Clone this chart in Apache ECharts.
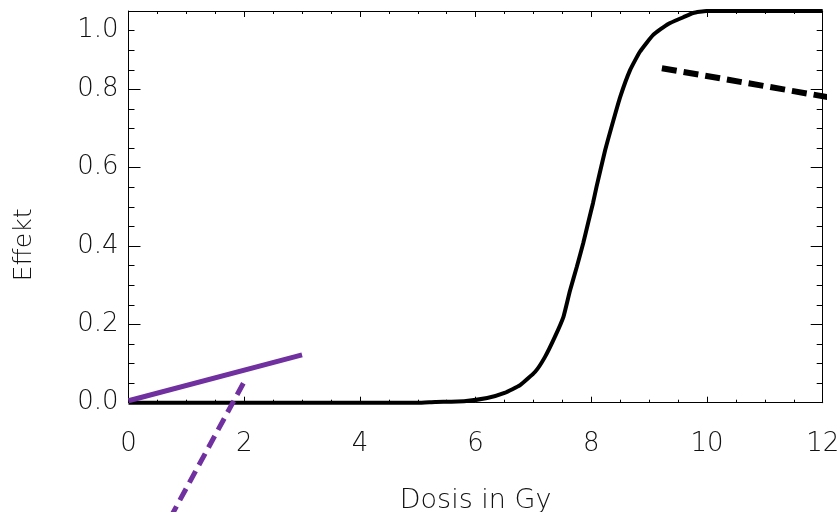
<!DOCTYPE html>
<html><head><meta charset="utf-8">
<script src="https://cdn.jsdelivr.net/npm/echarts@6/dist/echarts.min.js"></script>
<style>html,body{margin:0;padding:0;background:#fff}#c{width:840px;height:512px}</style>
</head><body><div id="c"></div>
<script>
// Dose-effect curve (Effekt vs Dosis in Gy)
const doseX   = [0, 5.0, 5.3, 5.8, 6.2, 6.5, 6.77, 7.03, 7.2, 7.37, 7.52, 7.63, 7.75, 7.86, 7.95, 8.03, 8.09, 8.24, 8.38, 8.5, 8.67, 8.84, 9.07, 9.33, 9.59, 9.76, 9.99, 12];
const effectY = [0, 0, 0.002, 0.004, 0.012, 0.025, 0.045, 0.079, 0.117, 0.168, 0.22, 0.285, 0.347, 0.407, 0.462, 0.51, 0.551, 0.645, 0.72, 0.781, 0.849, 0.896, 0.939, 0.967, 0.984, 0.995, 1.0, 1.0];
// purple solid tangent at low dose
const lowTangentX = [0, 3];
const lowTangentY = [0.005, 0.122];
// purple dashed line
const steepDashX = [1.985, 0.6];
const steepDashY = [0.0495, -0.327];
// black dashed line at high dose
const highDashX = [9.22, 12.6];
const highDashY = [0.854, 0.767];
// tick labels
const xTickLabels = ['0','2','4','6','8','10','12'];
const yTickLabels = ['0.0','0.2','0.4','0.6','0.8'];
const yTopLabel = '1.0';

const pairs = (xs, ys) => xs.map((x, i) => [x, ys[i]]);
const font = "'DejaVu Sans ExtraLight', 'DejaVu Sans'";
const fw = 200;
const txt = '#111';

const baseX = {
  type: 'value', min: 0, max: 12, interval: 2,
  axisLine: {show: true, onZero: false, lineStyle: {color: '#000', width: 1}},
  axisTick: {show: true, inside: true, length: 6, lineStyle: {color: '#000'}},
  minorTick: {show: true, splitNumber: 4, length: 3, lineStyle: {color: '#000'}},
  splitLine: {show: false}, minorSplitLine: {show: false}
};
const baseY = {
  type: 'value', min: 0, max: 1, interval: 0.2,
  axisLine: {show: true, onZero: false, lineStyle: {color: '#000', width: 1}},
  axisTick: {show: true, inside: true, length: 12, lineStyle: {color: '#000'}},
  minorTick: {show: true, splitNumber: 4, length: 6, lineStyle: {color: '#000'}},
  splitLine: {show: false}, minorSplitLine: {show: false}
};

const chart = echarts.init(document.getElementById('c'), null, {renderer: 'canvas'});
chart.setOption({
  animation: false,
  backgroundColor: '#fff',
  grid: {left: 128.5, right: 17.3, top: 11, bottom: 109.3, containLabel: false, outerBoundsMode: 'none'},
  xAxis: [
    Object.assign({}, baseX, {
      position: 'bottom',
      name: 'Dosis in Gy', nameLocation: 'middle', nameGap: 85, nameMoveOverlap: false,
      nameTextStyle: {fontFamily: font, fontWeight: fw, fontSize: 27, color: txt},
      axisLabel: {show: true, margin: 29, fontFamily: font, fontWeight: fw, fontSize: 26, color: txt,
        formatter: v => xTickLabels[Math.round(v / 2)] || ''}
    }),
    Object.assign({}, baseX, {position: 'top', axisLabel: {show: false}})
  ],
  yAxis: [
    Object.assign({}, baseY, {
      position: 'left',
      name: 'Effekt', nameLocation: 'middle', nameGap: 92, nameRotate: 90, nameMoveOverlap: false,
      nameTextStyle: {fontFamily: font, fontWeight: fw, fontSize: 25, color: txt, padding: [0, 76, 0, 0]},
      axisLabel: {show: true, margin: 10, fontFamily: font, fontWeight: fw, fontSize: 26, color: txt,
        formatter: v => yTickLabels[Math.round(v / 0.2)] || ''}
    }),
    {
      type: 'value', min: 0, max: 1, interval: 0.05, position: 'left',
      axisLine: {show: false}, axisTick: {show: false}, splitLine: {show: false},
      axisLabel: {show: true, margin: 10, fontFamily: font, fontWeight: fw, fontSize: 26, color: txt,
        formatter: v => Math.abs(v - 0.95) < 1e-6 ? yTopLabel : ''}
    },
    Object.assign({}, baseY, {position: 'right', axisLabel: {show: false}})
  ],
  series: [
    {type: 'line', xAxisIndex: 0, yAxisIndex: 0, data: pairs(doseX, effectY), showSymbol: false, clip: false,
      smooth: 0.15,
      lineStyle: {color: '#000', width: 4}, z: 3},
    {type: 'line', xAxisIndex: 0, yAxisIndex: 0, data: pairs(lowTangentX, lowTangentY), showSymbol: false, clip: false,
      lineStyle: {color: '#7030a0', width: 5, cap: 'butt'}, z: 4},
    {type: 'line', xAxisIndex: 0, yAxisIndex: 0, data: pairs(steepDashX, steepDashY), showSymbol: false, clip: false,
      lineStyle: {color: '#7030a0', width: 5, type: [13, 7], cap: 'butt'}, z: 4},
    {type: 'line', xAxisIndex: 0, yAxisIndex: 0, data: pairs(highDashX, highDashY), showSymbol: false, clip: false,
      lineStyle: {color: '#000', width: 6, type: [15, 7], cap: 'butt'}, z: 4}
  ]
});
</script></body></html>
